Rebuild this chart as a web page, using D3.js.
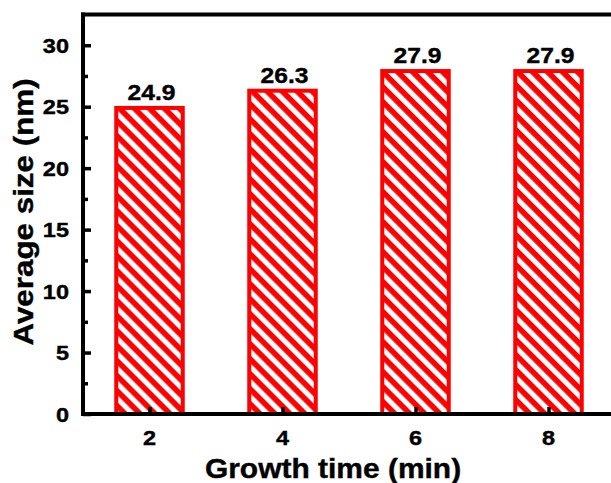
<!DOCTYPE html>
<html>
<head>
<meta charset="utf-8">
<script src="https://cdn.jsdelivr.net/npm/d3@7"></script>
<style>
  html, body { margin: 0; padding: 0; background: #fff; }
  svg { display: block; }
  text { font-family: "Liberation Sans", Arial, sans-serif; font-weight: bold; fill: #000; stroke: #000; stroke-width: 0.4px; }
</style>
</head>
<body>
<script>
// Data
const categories = [2, 4, 6, 8];
const values = [24.9, 26.3, 27.9, 27.9];
const yTicks = [0, 5, 10, 15, 20, 25, 30];
const yMinorTicks = [2.5, 7.5, 12.5, 17.5, 22.5, 27.5];
const xTicks = [2, 4, 6, 8];
const xLabel = "Growth time (min)";
const yLabel = "Average size (nm)";

const W = 611, H = 483;
const svg = d3.select("body").append("svg").attr("width", W).attr("height", H);

const x = d3.scaleLinear().domain([1, 9]).range([83, 615]);
const y = d3.scaleLinear().domain([0, 32.5]).range([414, 14.5]);

// hatch pattern
const defs = svg.append("defs");
const pat = defs.append("pattern")
  .attr("id", "hatch")
  .attr("patternUnits", "userSpaceOnUse")
  .attr("width", 10.6).attr("height", 10.6)
  .attr("patternTransform", "rotate(-45)");
pat.append("rect").attr("width", 10.6).attr("height", 10.6).attr("fill", "#ff0000");
pat.append("rect").attr("x", 0).attr("width", 5).attr("height", 10.6).attr("fill", "#ffffff");

const data = categories.map((c, i) => ({c, v: values[i]}));

// bars
const barW = x(2) - x(1);
svg.append("g").selectAll("rect")
  .data(data)
  .join("rect")
  .attr("x", d => x(d.c) - barW / 2)
  .attr("width", barW)
  .attr("y", d => y(d.v))
  .attr("height", d => y(0) - y(d.v))
  .attr("fill", "url(#hatch)")
  .attr("stroke", "#ff0000")
  .attr("stroke-width", 4);

// value labels
svg.append("g").selectAll("text")
  .data(data)
  .join("text")
  .attr("transform", d => `translate(${x(d.c) + 2},${y(d.v) - 8}) scale(1.12,1)`)
  .attr("text-anchor", "middle")
  .style("font-size", "22px")
  .text(d => d.v.toFixed(1));

// y axis ticks
const yAxis = svg.append("g").attr("transform", `translate(${x(1)},0)`)
  .call(d3.axisRight(y).tickValues(yTicks).tickSize(8).tickFormat(""));
yAxis.select(".domain").remove();
yAxis.selectAll(".tick line").attr("stroke", "#000").attr("stroke-width", 3.5);
const yMinor = svg.append("g").attr("transform", `translate(${x(1)},0)`)
  .call(d3.axisRight(y).tickValues(yMinorTicks).tickSize(5).tickFormat(""));
yMinor.select(".domain").remove();
yMinor.selectAll(".tick line").attr("stroke", "#000").attr("stroke-width", 3.5);

svg.append("g").selectAll("text")
  .data(yTicks).join("text")
  .attr("transform", d => `translate(69,${y(d)}) scale(1.12,1)`)
  .attr("dy", "0.36em")
  .attr("text-anchor", "end")
  .style("font-size", "21px")
  .text(d => d);

// x axis ticks
const xAxis = svg.append("g").attr("transform", `translate(0,${y(0)})`)
  .call(d3.axisTop(x).tickValues(xTicks).tickSize(7).tickFormat(""));
xAxis.select(".domain").remove();
xAxis.selectAll(".tick line").attr("stroke", "#000").attr("stroke-width", 3.5);

svg.append("g").selectAll("text")
  .data(xTicks).join("text")
  .attr("transform", d => `translate(${x(d)},445) scale(1.12,1)`)
  .attr("text-anchor", "middle")
  .style("font-size", "21px")
  .text(d => d);

// frame lines
svg.append("line").attr("x1", x(1)).attr("x2", x(1)).attr("y1", y(32.5) - 2).attr("y2", y(0) + 2)
  .attr("stroke", "#000").attr("stroke-width", 4);
svg.append("line").attr("x1", x(1) - 2).attr("x2", x(9)).attr("y1", y(0)).attr("y2", y(0))
  .attr("stroke", "#000").attr("stroke-width", 4);
svg.append("line").attr("x1", x(1) - 2).attr("x2", x(9)).attr("y1", y(32.5)).attr("y2", y(32.5))
  .attr("stroke", "#000").attr("stroke-width", 4);

// axis titles
svg.append("text")
  .attr("transform", `translate(333,478) scale(1.07,1)`)
  .attr("text-anchor", "middle")
  .style("font-size", "28px")
  .text(xLabel);

svg.append("text")
  .attr("transform", `translate(33,212) rotate(-90) scale(1.12,1)`)
  .attr("text-anchor", "middle")
  .style("font-size", "28px")
  .text(yLabel);
</script>
</body>
</html>
